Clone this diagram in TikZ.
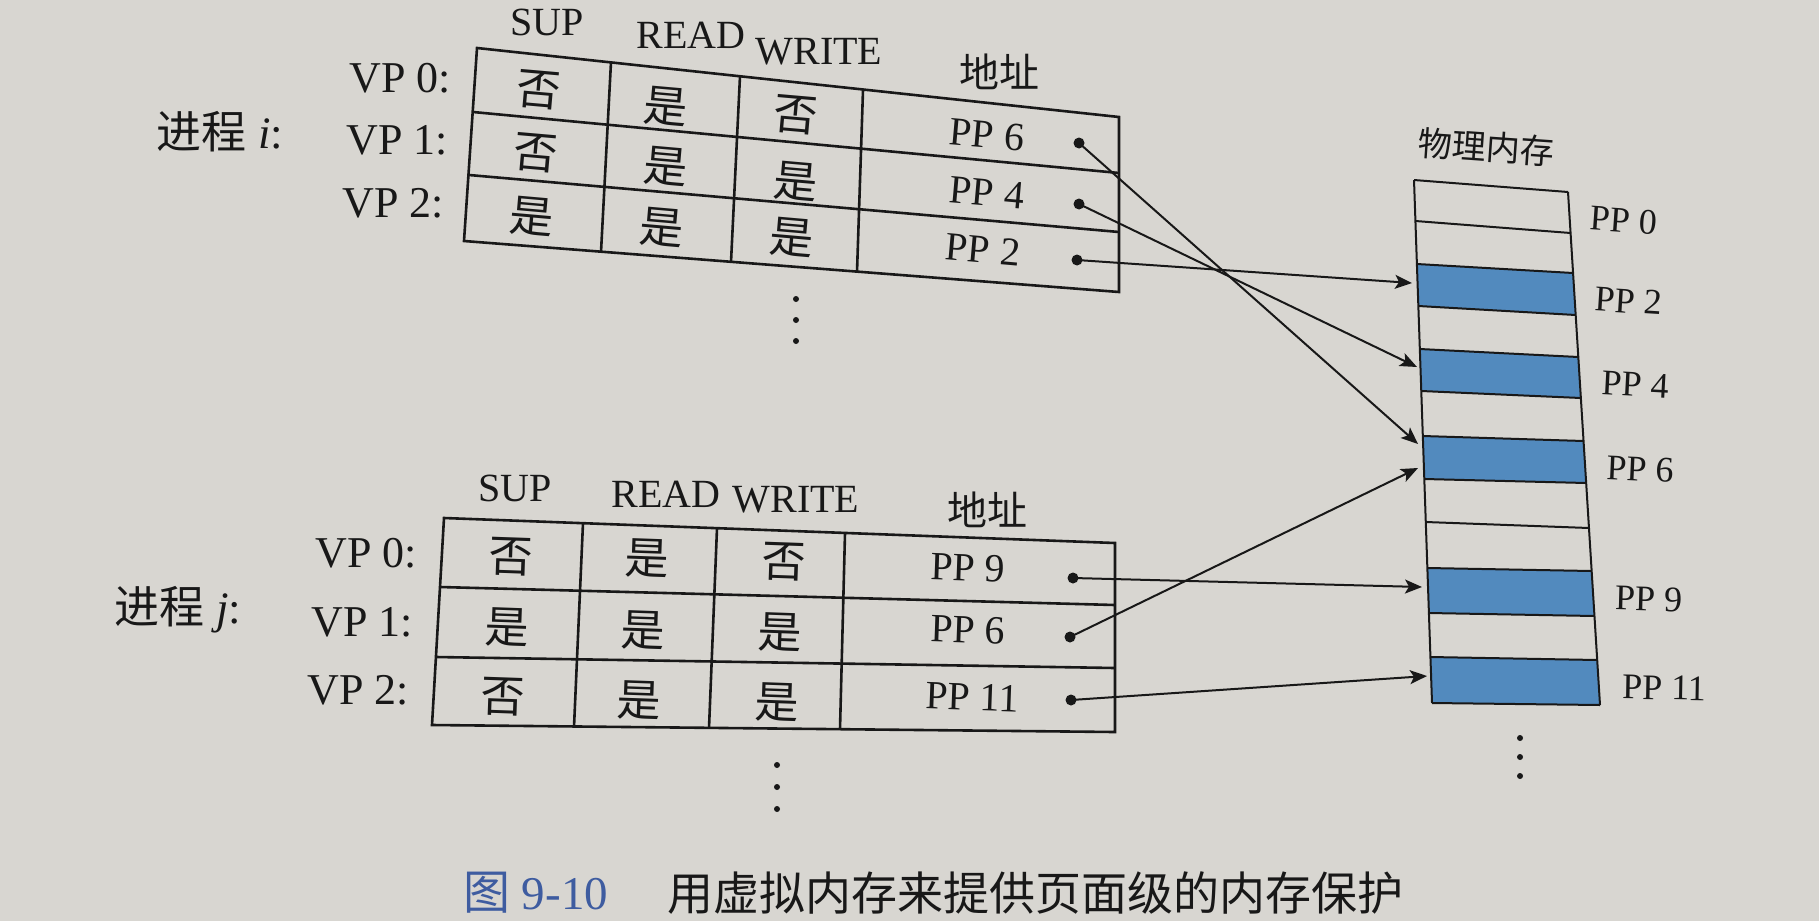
\documentclass[tikz,border=0pt]{standalone}
\usepackage{fontspec}
\setmainfont{Liberation Serif}
\newfontfamily\cjk{Noto Sans CJK SC}
\usetikzlibrary{arrows.meta}
\definecolor{pagebg}{RGB}{216,214,209}
\definecolor{ink}{RGB}{24,24,24}
\definecolor{memblue}{RGB}{82,138,190}
\definecolor{capblue}{RGB}{62,92,160}
\begin{document}
\begin{tikzpicture}[x=1pt,y=-1pt,
  tbl/.style={draw=ink, line width=2.6pt, line join=miter},
  memline/.style={draw=ink, line width=2pt},
  hdr/.style={text=ink, inner sep=0pt, font=\fontsize{40pt}{42pt}\selectfont},
  vplbl/.style={text=ink, inner sep=0pt, anchor=east, font=\fontsize{44pt}{46pt}\selectfont},
  proclbl/.style={text=ink, inner sep=0pt, font=\fontsize{45pt}{47pt}\selectfont},
  cjkcell/.style={text=ink, inner sep=0pt, font=\cjk\fontsize{44pt}{46pt}\selectfont},
  ppcell/.style={text=ink, inner sep=0pt, font=\fontsize{40pt}{42pt}\selectfont},
  memlbl/.style={text=ink, inner sep=0pt, anchor=west, font=\fontsize{36pt}{38pt}\selectfont},
  dotnode/.style={circle, fill=ink, inner sep=0pt, minimum size=11pt},
  conn/.style={draw=ink, line width=2pt, -{Stealth[length=17pt,width=14pt,inset=4pt]}},
  ellip/.style={fill=ink},
]
\useasboundingbox (0,0) rectangle (1819,921);
\fill[pagebg] (0,0) rectangle (1819,921);

% ---------------- table of process i ----------------
\coordinate (aTL) at (477,48);  \coordinate (aTR) at (1119,117);
\coordinate (aBL) at (464,241); \coordinate (aBR) at (1119,292);
\coordinate (aR1L) at (473,112); \coordinate (aR1R) at (1119,173);
\coordinate (aR2L) at (469,175); \coordinate (aR2R) at (1119,232);
\coordinate (aC1T) at (611,62); \coordinate (aC1B) at (601,252);
\coordinate (aC2T) at (740,76); \coordinate (aC2B) at (731,262);
\coordinate (aC3T) at (863,90); \coordinate (aC3B) at (857,272);
\draw[tbl] (aTL) -- (aTR) -- (aBR) -- (aBL) -- cycle;
\draw[tbl] (aR1L) -- (aR1R);
\draw[tbl] (aR2L) -- (aR2R);
\draw[tbl] (aC1T) -- (aC1B);
\draw[tbl] (aC2T) -- (aC2B);
\draw[tbl] (aC3T) -- (aC3B);

\node[hdr] (hSUPi) at (547,22) {SUP};
\node[hdr] (hREADi) at (691,35) {READ};
\node[hdr] (hWRITEi) at (819,52) {WRITE};
\node[hdr] (hADDRi) at (999,72) {\cjk 地址};
\node[vplbl] (vpi0) at (451,78) {VP 0:};
\node[vplbl] (vpi1) at (448,140) {VP 1:};
\node[vplbl] (vpi2) at (444,203) {VP 2:};
\node[proclbl] (proci) at (220,132) {{\cjk 进程} \textit{i}:};

\node[cjkcell, rotate=-5] (i00) at (539,90) {否};
\node[cjkcell, rotate=-5] (i01) at (666,107) {是};
\node[cjkcell, rotate=-5] (i02) at (796,115) {否};
\node[ppcell, rotate=-5] (i03) at (987,135) {PP 6};
\node[cjkcell, rotate=-5] (i10) at (536,153) {否};
\node[cjkcell, rotate=-5] (i11) at (666,167) {是};
\node[cjkcell, rotate=-5] (i12) at (796,182) {是};
\node[ppcell, rotate=-5] (i13) at (987,193) {PP 4};
\node[cjkcell, rotate=-5] (i20) at (532,217) {是};
\node[cjkcell, rotate=-5] (i21) at (662,228) {是};
\node[cjkcell, rotate=-5] (i22) at (792,238) {是};
\node[ppcell, rotate=-5] (i23) at (983,250) {PP 2};

\node[dotnode] (di0) at (1079,143) {};
\node[dotnode] (di1) at (1079,204) {};
\node[dotnode] (di2) at (1077,260) {};

\foreach \yy in {299,320,341} \fill[ellip] (796,\yy) circle (3pt);

% ---------------- table of process j ----------------
\coordinate (bTL) at (444,518);  \coordinate (bTR) at (1115,543);
\coordinate (bBL) at (432,725);  \coordinate (bBR) at (1115,732);
\coordinate (bR1L) at (440,587); \coordinate (bR1R) at (1115,605);
\coordinate (bR2L) at (436,657); \coordinate (bR2R) at (1115,668);
\coordinate (bC1T) at (583,523); \coordinate (bC1B) at (574,727);
\coordinate (bC2T) at (717,528); \coordinate (bC2B) at (709,728);
\coordinate (bC3T) at (845,533); \coordinate (bC3B) at (840,729);
\draw[tbl] (bTL) -- (bTR) -- (bBR) -- (bBL) -- cycle;
\draw[tbl] (bR1L) -- (bR1R);
\draw[tbl] (bR2L) -- (bR2R);
\draw[tbl] (bC1T) -- (bC1B);
\draw[tbl] (bC2T) -- (bC2B);
\draw[tbl] (bC3T) -- (bC3B);

\node[hdr] (hSUPj) at (515,488) {SUP};
\node[hdr] (hREADj) at (666,494) {READ};
\node[hdr] (hWRITEj) at (796,500) {WRITE};
\node[hdr] (hADDRj) at (987,510) {\cjk 地址};
\node[vplbl] (vpj0) at (417,553) {VP 0:};
\node[vplbl] (vpj1) at (413,622) {VP 1:};
\node[vplbl] (vpj2) at (409,690) {VP 2:};
\node[proclbl] (procj) at (178,610) {{\cjk 进程} \textit{j}:};

\node[cjkcell, rotate=-2] (j00) at (511,557) {否};
\node[cjkcell, rotate=-2] (j01) at (647,558) {是};
\node[cjkcell, rotate=-2] (j02) at (784,562) {否};
\node[ppcell, rotate=-2] (j03) at (968,568) {PP 9};
\node[cjkcell, rotate=-2] (j10) at (507,627) {是};
\node[cjkcell, rotate=-2] (j11) at (643,630) {是};
\node[cjkcell, rotate=-2] (j12) at (780,632) {是};
\node[ppcell, rotate=-2] (j13) at (968,630) {PP 6};
\node[cjkcell, rotate=-2] (j20) at (503,697) {否};
\node[cjkcell, rotate=-2] (j21) at (639,700) {是};
\node[cjkcell, rotate=-2] (j22) at (777,702) {是};
\node[ppcell, rotate=-2] (j23) at (972,697) {PP 11};

\node[dotnode] (dj0) at (1073,578) {};
\node[dotnode] (dj1) at (1070,637) {};
\node[dotnode] (dj2) at (1071,700) {};

\foreach \yy in {765,787,809} \fill[ellip] (777,\yy) circle (3pt);

% ---------------- physical memory ----------------
\foreach \yl/\yr [count=\k from 0] in {180/192,221/233,264/273,306/315,349/357,391/398,436/441,479/483,522/528,568/571,613/616,657/660,703/705}{
  \pgfmathsetmacro\xl{1414+0.03442*(\yl-180)}
  \pgfmathsetmacro\xr{1568+0.06238*(\yr-192)}
  \coordinate (m\k-L) at (\xl,\yl);
  \coordinate (m\k-R) at (\xr,\yr);
}
\foreach \k in {2,4,6,9,11}{
  \pgfmathtruncatemacro\kk{\k+1}
  \fill[memblue] (m\k-L) -- (m\k-R) -- (m\kk-R) -- (m\kk-L) -- cycle;
}
\foreach \k in {0,...,12}{
  \draw[memline] (m\k-L) -- (m\k-R);
}
\draw[memline] (m0-L) -- (m12-L);
\draw[memline] (m0-R) -- (m12-R);

\node[text=ink, inner sep=0pt, rotate=-4, font=\cjk\fontsize{34pt}{36pt}\selectfont] (memtitle) at (1486,147) {物理内存};
\node[memlbl, rotate=-4] (lpp0) at (1590,218) {PP 0};
\node[memlbl, rotate=-3.5] (lpp2) at (1595,299) {PP 2};
\node[memlbl, rotate=-3] (lpp4) at (1602,383) {PP 4};
\node[memlbl, rotate=-2.5] (lpp6) at (1607,468) {PP 6};
\node[memlbl, rotate=-1.5] (lpp9) at (1615,598) {PP 9};
\node[memlbl, rotate=-1] (lpp11) at (1622,687) {PP 11};

\foreach \yy in {738,757,776} \fill[ellip] (1520,\yy) circle (3pt);

% ---------------- arrow targets ----------------
\coordinate (tA6) at (1418,444);
\coordinate (tA4) at (1417,367);
\coordinate (tA2) at (1412,283);
\coordinate (tB9) at (1422,587);
\coordinate (tB6) at (1418,468);
\coordinate (tB11) at (1427,676);

\draw[conn] (di0.center) -- (tA6);
\draw[conn] (di1.center) -- (tA4);
\draw[conn] (di2.center) -- (tA2);
\draw[conn] (dj0.center) -- (tB9);
\draw[conn] (dj1.center) -- (tB6);
\draw[conn] (dj2.center) -- (tB11);

% ---------------- caption ----------------
\node[anchor=west, inner sep=0pt, text=capblue, font=\fontsize{47pt}{49pt}\selectfont] (capnum) at (463,893) {{\cjk 图} 9-10};
\node[anchor=west, inner sep=0pt, text=ink, font=\cjk\fontsize{46pt}{48pt}\selectfont] (captxt) at (667,893) {用虚拟内存来提供页面级的内存保护};
\end{tikzpicture}
\end{document}
